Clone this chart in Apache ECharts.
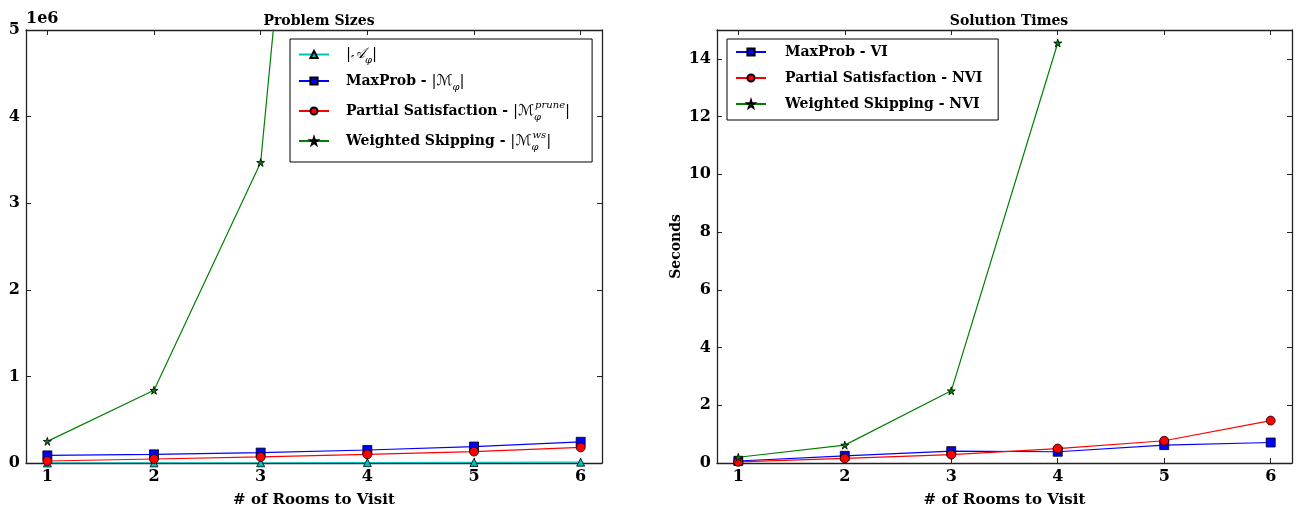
<!DOCTYPE html>
<html>
<head>
<meta charset="utf-8">
<script src="https://cdn.jsdelivr.net/npm/echarts@6/dist/echarts.min.js"></script>
<style>html,body{margin:0;padding:0;background:#fff}#c{width:1300px;height:513px}</style>
</head>
<body>
<div id="c"></div>
<script>
// ---- data ----
const rooms = [1, 2, 3, 4, 5, 6];
const xTicks = [1, 2, 3, 4, 5, 6];
// Problem sizes (states)
const sizeAutomaton = [600, 1500, 2800, 4500, 6700, 9400];
const sizeMaxProb = [88000, 100000, 120000, 150000, 190000, 245000];
const sizePartial = [23000, 46000, 70000, 100000, 132000, 180000];
const sizeWeighted = [250000, 840000, 3470000, 16400000];
const sizeTicks = [0, 1e6, 2e6, 3e6, 4e6, 5e6];
// Solution times (seconds)
const timeMaxProb = [0.07, 0.25, 0.41, 0.39, 0.62, 0.71];
const timePartial = [0.04, 0.16, 0.29, 0.50, 0.77, 1.47];
const timeWeighted = [0.20, 0.62, 2.50, 14.55];
const timeTicks = [0, 2, 4, 6, 8, 10, 12, 14];

const pairs = (vals) => vals.map((v, i) => [rooms[i], v]);

const SERIF = '"DejaVu Serif", "Liberation Serif", serif';
const STAR = 'path://M50,0 L61,35 L98,35 L68,57 L79,91 L50,70 L21,91 L32,57 L2,35 L39,35 Z';
const AXC = '#222';

function mkX(grid, pos) {
  return {
    type: 'value', gridIndex: grid, position: pos, min: 0.8, max: 6.2,
    axisLine: { show: true, onZero: false, lineStyle: { color: AXC, width: 1.3 } },
    axisTick: { show: true, inside: true, length: 5, customValues: xTicks, lineStyle: { color: AXC } },
    axisLabel: pos === 'bottom'
      ? { show: true, customValues: xTicks, fontFamily: SERIF, fontWeight: 'bold', fontSize: 16, color: '#000', margin: 6 }
      : { show: false },
    splitLine: { show: false },
    name: pos === 'bottom' ? '# of Rooms to Visit' : '',
    nameLocation: 'middle', nameGap: 30,
    nameTextStyle: { fontFamily: SERIF, fontWeight: 'bold', fontSize: 15, color: '#000' }
  };
}
function mkY(grid, pos, max, ticks, fmt, name, nameOpts) {
  return Object.assign({
    type: 'value', gridIndex: grid, position: pos, min: 0, max: max,
    axisLine: { show: true, onZero: false, lineStyle: { color: AXC, width: 1.3 } },
    axisTick: { show: true, inside: true, length: 5, customValues: ticks, lineStyle: { color: AXC } },
    axisLabel: pos === 'left'
      ? { show: true, customValues: ticks, formatter: fmt, fontFamily: SERIF, fontWeight: 'bold', fontSize: 16, color: '#000', margin: 6 }
      : { show: false },
    splitLine: { show: false }
  }, nameOpts || {});
}

const legendRich = {
  t: { fontFamily: SERIF, fontWeight: 'bold', fontSize: 14, color: '#000', lineHeight: 22 },
  m: { fontFamily: SERIF, fontSize: 15, color: '#000', lineHeight: 22 },
  cal: { fontFamily: '"DejaVu Serif", "DejaVu Sans", serif', fontStyle: 'italic', fontSize: 15, color: '#000', lineHeight: 22 },
  sub: { fontFamily: SERIF, fontStyle: 'italic', fontSize: 10, color: '#000', verticalAlign: 'bottom', lineHeight: 10 },
  sub0: { fontFamily: SERIF, fontStyle: 'italic', fontSize: 10, color: '#000', verticalAlign: 'bottom', lineHeight: 10, width: 1 },
  sup: { fontFamily: SERIF, fontStyle: 'italic', fontSize: 10, color: '#000', verticalAlign: 'top', lineHeight: 10 }
};
const legendNames = {
  'A': '{m||}{cal|𝒜}{sub|φ}{m||}',
  'MP': '{t|MaxProb - }{m||}{cal|ℳ}{sub|φ}{m||}',
  'PS': '{t|Partial Satisfaction - }{m||}{cal|ℳ}{sub0|φ}{sup|prune}{m||}',
  'WS': '{t|Weighted Skipping - }{m||}{cal|ℳ}{sub0|φ}{sup|ws}{m||}',
  'MP2': '{t|MaxProb - VI}',
  'PS2': '{t|Partial Satisfaction - NVI}',
  'WS2': '{t|Weighted Skipping - NVI}'
};

function line(name, data, xi, yi, color, symbol, size) {
  return {
    type: 'line', name: name, xAxisIndex: xi, yAxisIndex: yi, data: data,
    symbol: symbol, symbolSize: size, showSymbol: true, clip: true,
    lineStyle: { color: color, width: 1.2 },
    itemStyle: { color: color, borderColor: '#000', borderWidth: 0.8 },
    animation: false, z: 3
  };
}

const chart = echarts.init(document.getElementById('c'), null, { renderer: 'canvas' });
chart.setOption({
  backgroundColor: '#fff',
  animation: false,
  title: [
    { text: 'Problem Sizes', left: 314, top: 9, textAlign: 'center',
      textStyle: { fontFamily: SERIF, fontWeight: 'bold', fontSize: 14, color: '#000' } },
    { text: 'Solution Times', left: 1004, top: 9, textAlign: 'center',
      textStyle: { fontFamily: SERIF, fontWeight: 'bold', fontSize: 14, color: '#000' } }
  ],
  grid: [
    { left: 26, top: 30, width: 576, height: 435, show: true, borderColor: AXC, borderWidth: 0 },
    { left: 717, top: 30, width: 575, height: 435, show: true, borderColor: AXC, borderWidth: 0 }
  ],
  xAxis: [mkX(0, 'bottom'), mkX(0, 'top'), mkX(1, 'bottom'), mkX(1, 'top')],
  yAxis: [
    mkY(0, 'left', 5e6, sizeTicks, v => String(Math.round(v / 1e6)), '', {
      name: '1e6', nameLocation: 'end', nameGap: 3,
      nameTextStyle: { fontFamily: SERIF, fontWeight: 'bold', fontSize: 16, color: '#000', align: 'left', padding: [0, 0, 0, 0] }
    }),
    mkY(0, 'right', 5e6, sizeTicks),
    mkY(1, 'left', 15, timeTicks, v => String(v), '', {
      name: 'Seconds', nameLocation: 'middle', nameGap: 34,
      nameTextStyle: { fontFamily: SERIF, fontWeight: 'bold', fontSize: 14, color: '#000' }
    }),
    mkY(1, 'right', 15, timeTicks)
  ],
  legend: [
    { data: ['A', 'MP', 'PS', 'WS'], orient: 'vertical', left: 290, top: 39,
      padding: [8, 22, 10, 8], itemGap: 8, itemWidth: 30, itemHeight: 9,
      backgroundColor: '#fff', borderColor: '#000', borderWidth: 1, borderRadius: 0,
      formatter: n => legendNames[n], textStyle: { rich: legendRich, padding: [0, 0, 0, 12] } },
    { data: ['MP2', 'PS2', 'WS2'], orient: 'vertical', left: 727, top: 39,
      padding: [6, 16, 9, 8], itemGap: 12, itemWidth: 30, itemHeight: 9,
      backgroundColor: '#fff', borderColor: '#000', borderWidth: 1, borderRadius: 0,
      formatter: n => legendNames[n], textStyle: { rich: legendRich, padding: [0, 0, 0, 14] } }
  ],
  series: [
    line('A', pairs(sizeAutomaton), 0, 0, '#00bfbf', 'triangle', 8),
    line('MP', pairs(sizeMaxProb), 0, 0, '#0000ff', 'rect', 9),
    line('PS', pairs(sizePartial), 0, 0, '#ff0000', 'circle', 9),
    line('WS', pairs(sizeWeighted), 0, 0, '#008000', STAR, 8),
    line('MP2', pairs(timeMaxProb), 2, 2, '#0000ff', 'rect', 9),
    line('PS2', pairs(timePartial), 2, 2, '#ff0000', 'circle', 9),
    line('WS2', pairs(timeWeighted), 2, 2, '#008000', STAR, 8)
  ]
});
</script>
</body>
</html>
